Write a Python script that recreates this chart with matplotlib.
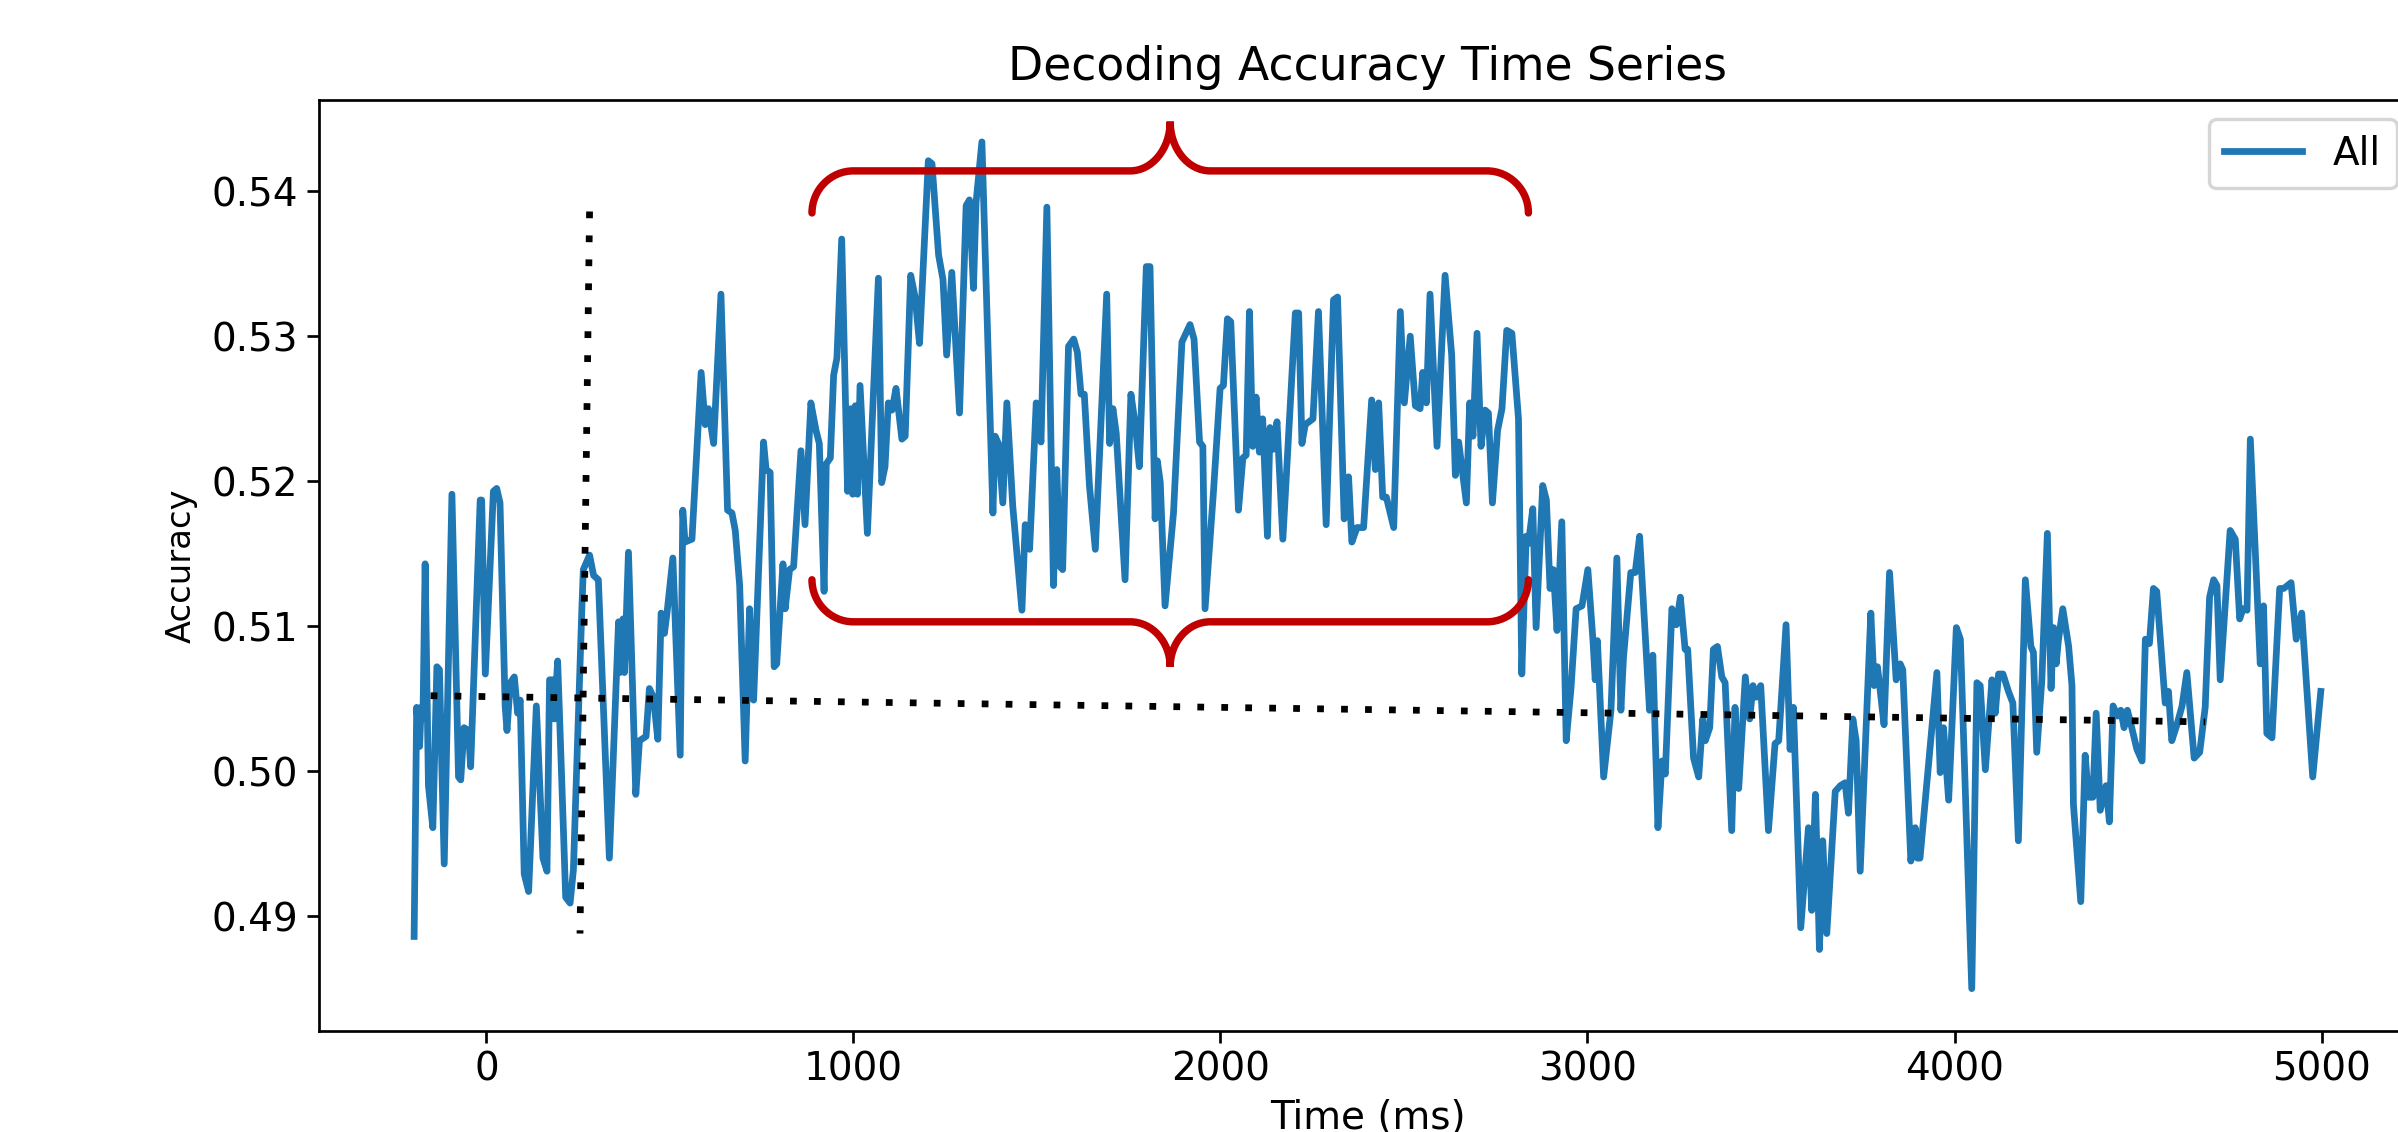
import matplotlib.pyplot as plt
from matplotlib.path import Path
from matplotlib.patches import PathPatch

# time points (ms) and decoding accuracy
time_ms = [
    -197, -190, -182, -178, -173, -167, -158, -146, -135, -128, -115, -94, -76, -70, -61, -49, -43,
    -17, -13, -3, 19, 28, 37, 51, 56, 65, 76, 85, 92, 103, 115, 136, 154, 165, 172, 181, 185, 194,
    199, 216, 228, 237, 260, 264, 281, 292, 305, 335, 360, 364, 372, 376, 387, 407, 417, 435, 444,
    455, 467, 476, 485, 492, 508, 528, 535, 541, 560, 585, 596, 605, 619, 639,
    657, 669, 678, 690, 705, 717, 723, 728, 755, 762, 773, 784, 791, 808, 814, 826, 837, 857, 868,
    884, 898, 907, 920, 926, 937, 946, 955, 968, 984, 993, 998, 1005, 1011, 1018, 1038, 1068, 1077,
    1086, 1095, 1105, 1116, 1132, 1141, 1156, 1168, 1180, 1204, 1214, 1232, 1244, 1254, 1268, 1289,
    1307, 1316, 1327, 1334, 1350, 1380, 1386, 1395, 1407, 1418, 1434, 1459, 1468, 1480, 1498, 1511,
    1527,
    1545, 1554, 1563, 1570, 1586, 1600, 1610, 1620, 1629, 1643, 1659, 1690, 1698, 1707, 1716, 1740,
    1756, 1768, 1779, 1798, 1808, 1822, 1828, 1836, 1849, 1872, 1895, 1917, 1928, 1943, 1952, 1958,
    1981, 1999, 2008, 2019, 2028, 2049, 2061, 2070, 2079, 2088, 2097, 2106, 2115, 2128, 2135, 2144,
    2154, 2170, 2204, 2213, 2222, 2231, 2252, 2267, 2288, 2308, 2319, 2337, 2349, 2358, 2372, 2390,
    2412, 2422, 2431, 2442, 2452, 2472, 2490, 2501, 2517, 2531, 2544, 2551, 2561, 2571, 2590, 2612,
    2630, 2640, 2649, 2670, 2679, 2688, 2699, 2710, 2721, 2730, 2741, 2755, 2767, 2780, 2794, 2812,
    2821, 2833, 2839, 2851, 2860, 2878, 2888, 2898, 2907, 2917, 2930, 2942, 2955, 2969, 2985, 3001,
    3015, 3021, 3027, 3044, 3064, 3080, 3091, 3098, 3118, 3130, 3142, 3160, 3169, 3178, 3192, 3203,
    3212, 3230, 3242, 3253,
    3266, 3273, 3289, 3303, 3314, 3321, 3333, 3343, 3354, 3366, 3375, 3393, 3402, 3412, 3430, 3442,
    3451, 3460, 3472, 3493, 3511, 3521, 3541, 3552, 3561, 3581, 3602, 3611, 3621, 3632, 3641, 3652,
    3675, 3689, 3702, 3711, 3723, 3732, 3743, 3772, 3781, 3790, 3796, 3808, 3823, 3841, 3852, 3859,
    3881, 3893, 3899, 3906, 3952, 3961, 3970, 3984, 4005, 4016, 4047, 4061, 4070, 4084, 4102, 4111,
    4120, 4132,
    4147, 4159, 4174, 4193, 4208, 4215, 4224, 4238, 4253, 4263, 4270, 4277, 4283, 4295, 4311, 4320,
    4324, 4344, 4356, 4365, 4377, 4386, 4397, 4413, 4422, 4432, 4444, 4453, 4462, 4471, 4481, 4497,
    4511, 4520, 4531, 4542, 4551, 4574, 4583, 4592, 4606, 4620, 4633, 4653, 4668, 4683, 4695, 4706,
    4715, 4724, 4751, 4765, 4777, 4786, 4797, 4806, 4833, 4842, 4851, 4865, 4886, 4897, 4917, 4931,
    4946, 4976, 4998,
]

accuracy = [
    0.4886, 0.5044, 0.5017, 0.5044, 0.5036, 0.5143, 0.4990, 0.4961, 0.5072, 0.5070, 0.4936, 0.5191,
    0.4996, 0.4994, 0.5030, 0.5028, 0.5003, 0.5187, 0.5187, 0.5067, 0.5193, 0.5195, 0.5185, 0.5045,
    0.5028, 0.5061, 0.5065, 0.5040, 0.5049, 0.4929, 0.4917, 0.5045, 0.4940, 0.4931, 0.5063, 0.5063,
    0.5036, 0.5076, 0.5040, 0.4913, 0.4909, 0.4932, 0.5112, 0.5139, 0.5149, 0.5135, 0.5132, 0.4940,
    0.5103, 0.5068, 0.5105, 0.5068, 0.5151, 0.4984, 0.5021, 0.5024, 0.5057, 0.5051, 0.5022, 0.5109,
    0.5095, 0.5109, 0.5147, 0.5011, 0.5180, 0.5158, 0.5160, 0.5275, 0.5239, 0.5250, 0.5226, 0.5329,
    0.5180, 0.5178, 0.5166, 0.5128, 0.5007, 0.5112, 0.5051, 0.5049, 0.5227, 0.5208, 0.5206, 0.5072,
    0.5074, 0.5143, 0.5112, 0.5139, 0.5141, 0.5221, 0.5170, 0.5254, 0.5235, 0.5226, 0.5124, 0.5212,
    0.5216, 0.5273, 0.5285, 0.5367, 0.5193, 0.5250, 0.5191, 0.5252, 0.5191, 0.5266, 0.5164, 0.5340,
    0.5199, 0.5210, 0.5254, 0.5249, 0.5264, 0.5229, 0.5231, 0.5342, 0.5327, 0.5295, 0.5421, 0.5419,
    0.5356, 0.5339, 0.5287, 0.5344, 0.5247, 0.5390, 0.5394, 0.5333, 0.5392, 0.5434, 0.5178, 0.5231,
    0.5226, 0.5185, 0.5254, 0.5183, 0.5111, 0.5170, 0.5153, 0.5254, 0.5227, 0.5389,
    0.5128, 0.5208, 0.5141, 0.5139, 0.5293, 0.5298, 0.5289, 0.5260, 0.5260, 0.5197, 0.5153, 0.5329,
    0.5226, 0.5250, 0.5233, 0.5132, 0.5260, 0.5239, 0.5210, 0.5348, 0.5348, 0.5174, 0.5214, 0.5199,
    0.5114, 0.5178, 0.5296, 0.5308, 0.5298, 0.5227, 0.5224, 0.5112, 0.5193, 0.5264, 0.5266, 0.5312,
    0.5310, 0.5180, 0.5216, 0.5218, 0.5317, 0.5224, 0.5258, 0.5220, 0.5243, 0.5162, 0.5237, 0.5222,
    0.5241, 0.5160, 0.5316, 0.5316, 0.5226, 0.5239, 0.5243, 0.5317, 0.5170, 0.5325, 0.5327, 0.5174,
    0.5203, 0.5158, 0.5168, 0.5168,
    0.5256, 0.5208, 0.5254, 0.5189, 0.5189, 0.5168, 0.5317, 0.5254, 0.5300, 0.5252, 0.5250, 0.5275,
    0.5254, 0.5329, 0.5224, 0.5342, 0.5287, 0.5204, 0.5227, 0.5185, 0.5254, 0.5231, 0.5302, 0.5224,
    0.5249, 0.5247, 0.5185, 0.5235, 0.5250, 0.5304, 0.5302, 0.5243, 0.5067, 0.5162, 0.5157, 0.5181,
    0.5099, 0.5197, 0.5187, 0.5126, 0.5139, 0.5097, 0.5172, 0.5021, 0.5057, 0.5112, 0.5114, 0.5139,
    0.5090, 0.5063, 0.5090, 0.4996, 0.5042, 0.5147, 0.5042, 0.5078, 0.5137, 0.5137, 0.5162, 0.5082,
    0.5042, 0.5080, 0.4961, 0.5007, 0.4998, 0.5112, 0.5101, 0.5120,
    0.5084, 0.5084, 0.5009, 0.4996, 0.5036, 0.5021, 0.5030, 0.5084, 0.5086, 0.5065, 0.5061, 0.4959,
    0.5044, 0.4988, 0.5065, 0.5036, 0.5059, 0.5051, 0.5059, 0.4959, 0.5019, 0.5021, 0.5101, 0.5015,
    0.5044, 0.4892, 0.4961, 0.4904, 0.4984, 0.4877, 0.4952, 0.4888, 0.4986, 0.4990, 0.4992, 0.4971,
    0.5036, 0.5021, 0.4931, 0.5109, 0.5059, 0.5072, 0.5059, 0.5032, 0.5137, 0.5063, 0.5074, 0.5070,
    0.4938, 0.4961, 0.4940, 0.4940, 0.5068, 0.4999, 0.5030, 0.4980, 0.5099, 0.5091, 0.4850, 0.5061,
    0.5059, 0.5001, 0.5063, 0.5040, 0.5067, 0.5067,
    0.5055, 0.5047, 0.4952, 0.5132, 0.5086, 0.5082, 0.5013, 0.5063, 0.5164, 0.5057, 0.5099, 0.5074,
    0.5090, 0.5112, 0.5086, 0.5059, 0.4977, 0.4910, 0.5011, 0.4982, 0.4982, 0.5040, 0.4973, 0.4990,
    0.4965, 0.5045, 0.5038, 0.5042, 0.5030, 0.5042, 0.5032, 0.5015, 0.5007, 0.5091, 0.5088, 0.5126,
    0.5124, 0.5047, 0.5055, 0.5021, 0.5032, 0.5045, 0.5068, 0.5009, 0.5013, 0.5044, 0.5120, 0.5132,
    0.5128, 0.5063, 0.5166, 0.5160, 0.5105, 0.5112, 0.5111, 0.5229, 0.5074, 0.5114, 0.5026, 0.5023,
    0.5126, 0.5126, 0.5130, 0.5091, 0.5109, 0.4996, 0.5055,
]

x_ticks = [0, 1000, 2000, 3000, 4000, 5000]
y_ticks = [0.49, 0.50, 0.51, 0.52, 0.53, 0.54]

# hand drawn annotations on top of the chart (data units)
vline_x = [281, 255]
vline_y = [0.5386, 0.4888]
hline_x = [-152, 4683]
hline_y = [0.5052, 0.5034]

brace_left, brace_right, brace_mid = 887, 2839, 1863
top_brace = (0.5385, 0.5414, 0.5448)     # end, flat, tip
bottom_brace = (0.5132, 0.5103, 0.5072)


def brace_path(x0, x1, xm, y_end, y_flat, y_tip, rx=113, tx=109):
    k = 0.55
    verts = [
        (x0, y_end),
        (x0, y_end + k * (y_flat - y_end)), (x0 + rx * (1 - k), y_flat), (x0 + rx, y_flat),
        (xm - tx, y_flat),
        (xm - tx + k * tx, y_flat), (xm, y_tip - k * (y_tip - y_flat)), (xm, y_tip),
        (xm, y_tip - k * (y_tip - y_flat)), (xm + tx - k * tx, y_flat), (xm + tx, y_flat),
        (x1 - rx, y_flat),
        (x1 - rx * (1 - k), y_flat), (x1, y_end + k * (y_flat - y_end)), (x1, y_end),
    ]
    codes = [Path.MOVETO] + [Path.CURVE4] * 3 + [Path.LINETO] + [Path.CURVE4] * 6 \
        + [Path.LINETO] + [Path.CURVE4] * 3
    return Path(verts, codes)


def main():
    dpi = 243
    fig = plt.figure(figsize=(2398 / dpi, 1132 / dpi), dpi=dpi)
    # the screenshot is cropped: the right spine sits just outside the picture
    ax = fig.add_axes([0.1329, 0.0895, 0.8747, 0.8223])

    ax.plot(time_ms, accuracy, color='#1f77b4', lw=2.0, label='All')

    ax.set_xlim(-457, 5258)
    ax.set_ylim(0.4821, 0.5463)
    ax.set_xticks(x_ticks)
    ax.set_yticks(y_ticks)
    ax.tick_params(labelsize=11.5, pad=2.5)
    ax.set_xlabel('Time (ms)', fontsize=11.5, labelpad=3)
    ax.set_ylabel('Accuracy', fontsize=10)
    ax.set_title('Decoding Accuracy Time Series', fontsize=13.5)
    ax.legend(loc='upper right', fontsize=11.5)

    # dotted guide lines
    dots = (0, (1.0, 2.55))
    ax.plot(vline_x, vline_y, color='black', lw=2.0, linestyle=dots)
    ax.plot(hline_x, hline_y, color='black', lw=2.0, linestyle=dots)

    # red curly braces around the plateau
    for b in (top_brace, bottom_brace):
        p = brace_path(brace_left, brace_right, brace_mid, *b)
        ax.add_patch(PathPatch(p, facecolor='none', edgecolor='#C00000', lw=2.2,
                               capstyle='round', zorder=4))

    fig.savefig('out.png', dpi=dpi)


if __name__ == "__main__":
    main()
